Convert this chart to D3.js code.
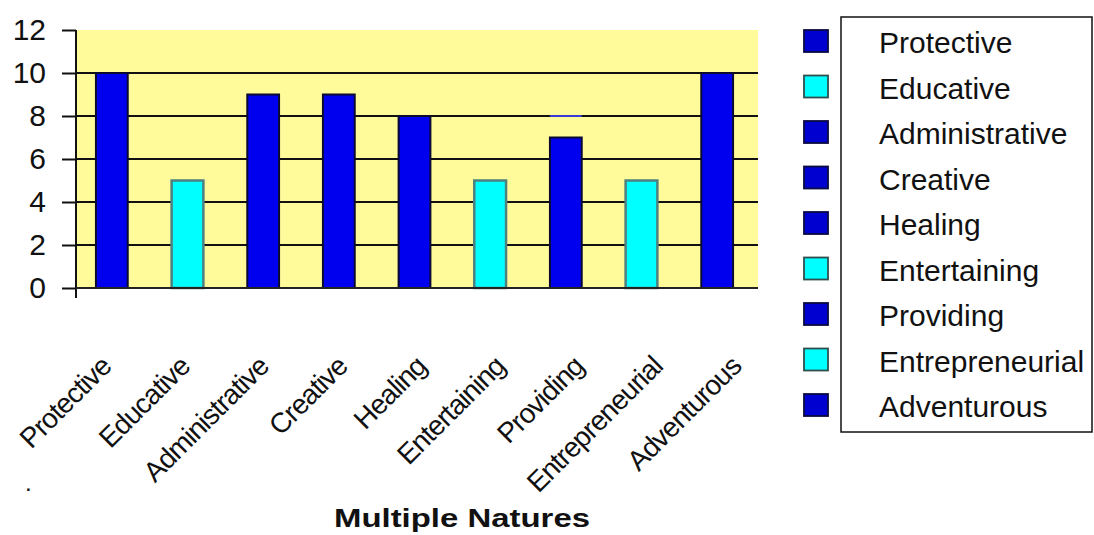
<!DOCTYPE html>
<html>
<head>
<meta charset="utf-8">
<script src="https://cdn.jsdelivr.net/npm/d3@7"></script>
<style>
  html, body { margin: 0; padding: 0; background: #fff; }
  svg { display: block; }
  text { font-family: "Liberation Sans", Arial, sans-serif; fill: #111; }
</style>
</head>
<body>
<svg id="chart" width="1094" height="535"></svg>
<script>
// Scores for each of the nine "natures"
const categories = ["Protective", "Educative", "Administrative", "Creative", "Healing",
                    "Entertaining", "Providing", "Entrepreneurial", "Adventurous"];
const values = [10, 5, 9, 9, 8, 5, 7, 5, 10];
const barGroup = ["dark", "light", "dark", "dark", "dark", "light", "dark", "light", "dark"];
const yTicks = [0, 2, 4, 6, 8, 10, 12];
const gridTicks = [2, 4, 6, 8, 10];
// faint leftover marker drawn on the Providing column
const leftoverMarks = [{ category: "Providing", value: 8 }];
const axisTitle = "Multiple Natures";

const fills = { dark: "#0000EE", light: "#00FFFF" };
const strokes = { dark: "#0a0a30", light: "#4f8080" };

const svg = d3.select("#chart");
const plot = { left: 76, right: 758, top: 30, bottom: 288 };

const x = d3.scaleBand()
  .domain(categories)
  .range([74, 755])
  .paddingInner(0.58)
  .paddingOuter(0.29);

// rotated labels fan out a little wider than the columns
const labelX = d3.scalePoint()
  .domain(categories)
  .range([113, 743]);

const y = d3.scaleLinear()
  .domain([0, 12])
  .range([plot.bottom, plot.top]);

// plot background
svg.append("rect")
  .attr("x", plot.left).attr("y", y(12))
  .attr("width", plot.right - plot.left)
  .attr("height", y(0) - y(12))
  .attr("fill", "#FFFA9A");

// horizontal gridlines
svg.append("g").selectAll("line")
  .data(gridTicks)
  .join("line")
  .attr("x1", plot.left).attr("x2", plot.right)
  .attr("y1", d => y(d)).attr("y2", d => y(d))
  .attr("stroke", "#111").attr("stroke-width", 2);

// leftover marker
svg.append("g").selectAll("line")
  .data(leftoverMarks)
  .join("line")
  .attr("x1", d => x(d.category)).attr("x2", d => x(d.category) + x.bandwidth())
  .attr("y1", d => y(d.value)).attr("y2", d => y(d.value))
  .attr("stroke", "#3a3ad8").attr("stroke-width", 2);

// bars
svg.append("g").selectAll("rect")
  .data(categories.map((c, i) => ({ c, v: values[i], g: barGroup[i] })))
  .join("rect")
  .attr("x", d => x(d.c))
  .attr("y", d => y(d.v))
  .attr("width", x.bandwidth())
  .attr("height", d => y(0) - y(d.v))
  .attr("fill", d => fills[d.g])
  .attr("stroke", d => strokes[d.g])
  .attr("stroke-width", d => d.g === "light" ? 2.5 : 2);

// y axis
const yAxis = d3.axisLeft(y)
  .tickValues(yTicks)
  .tickSize(14)
  .tickPadding(16)
  .tickFormat(d3.format("d"));

const yg = svg.append("g")
  .attr("transform", `translate(${plot.left},0)`)
  .call(yAxis);
yg.select(".domain").remove();
yg.selectAll(".tick line").attr("stroke", "#111").attr("stroke-width", 2);
yg.selectAll(".tick text")
  .attr("font-size", 30)
  .attr("fill", "#111")
  .attr("font-family", "Liberation Sans, Arial, sans-serif");

// axis lines
svg.append("line")
  .attr("x1", plot.left).attr("x2", plot.left)
  .attr("y1", y(12)).attr("y2", y(0) + 10)
  .attr("stroke", "#111").attr("stroke-width", 2);
svg.append("line")
  .attr("x1", plot.left).attr("x2", plot.right)
  .attr("y1", y(0)).attr("y2", y(0))
  .attr("stroke", "#222").attr("stroke-width", 2);

// x category labels, rotated
svg.append("g").selectAll("text")
  .data(categories)
  .join("text")
  .attr("font-size", 28)
  .attr("letter-spacing", -0.9)
  .attr("fill", "#111")
  .attr("text-anchor", "end")
  .attr("transform", d => `translate(${labelX(d)},${y(0) + 80}) rotate(-45)`)
  .text(d => d);

// stray dot
svg.append("text")
  .attr("x", 25).attr("y", 491)
  .attr("font-size", 24)
  .text(".");

// axis title
svg.append("text")
  .attr("x", 462).attr("y", 527)
  .attr("text-anchor", "middle")
  .attr("font-size", 25)
  .attr("font-weight", "bold")
  .attr("textLength", 256)
  .attr("lengthAdjust", "spacingAndGlyphs")
  .text(axisTitle);

// legend
const legend = svg.append("g");
legend.append("rect")
  .attr("x", 841).attr("y", 17)
  .attr("width", 251).attr("height", 415)
  .attr("fill", "#fff")
  .attr("stroke", "#111").attr("stroke-width", 1.5);

const rowY = d3.scalePoint()
  .domain(categories)
  .range([41, 405]);

const rows = legend.selectAll("g.row")
  .data(categories.map((c, i) => ({ c, g: barGroup[i] })))
  .join("g")
  .attr("class", "row")
  .attr("transform", d => `translate(0,${rowY(d.c)})`);

rows.append("rect")
  .attr("x", 804).attr("y", -11)
  .attr("width", 24).attr("height", 22)
  .attr("fill", d => d.g === "dark" ? "#0000D0" : "#00FFFF")
  .attr("stroke", d => d.g === "dark" ? "#0a0a40" : "#2f4f4f")
  .attr("stroke-width", 1.8);

rows.append("text")
  .attr("x", 879).attr("y", 12)
  .attr("font-size", 30)
  .attr("fill", "#111")
  .text(d => d.c);
</script>
</body>
</html>
